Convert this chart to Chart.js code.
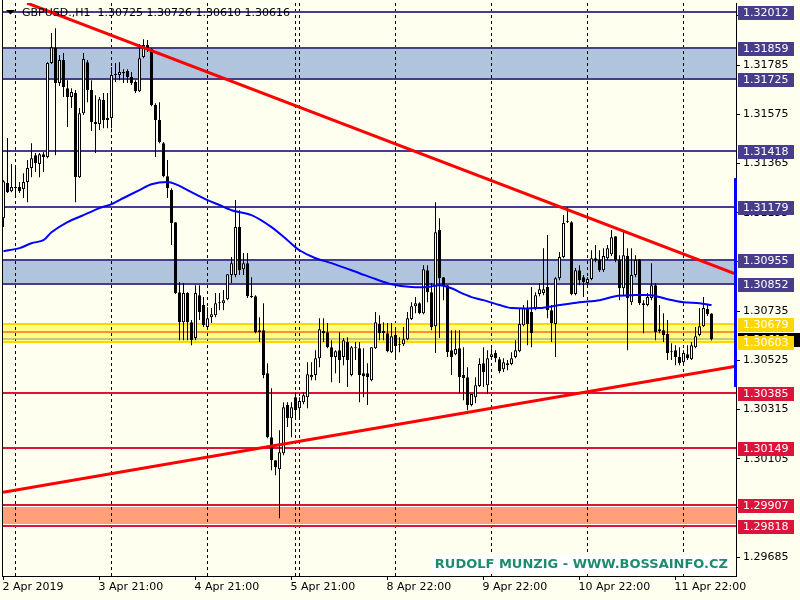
<!DOCTYPE html>
<html><head><meta charset="utf-8">
<script src="https://cdn.jsdelivr.net/npm/chart.js@4"></script>
<style>html,body{margin:0;padding:0;background:#FFFFF0}canvas{display:block}</style>
</head><body>
<canvas id="c" width="800" height="600"></canvas>
<script>
// ---------- DATA ----------
const symbolName = 'GBPUSD.';
const timeframe = 'H1';
const opens = [
1.31132,1.31282,1.31247,1.31265,1.31265,1.31256,1.31286,1.31346,1.31401,1.31363,
1.31405,1.31393,1.31794,1.31858,1.31709,1.31807,1.31687,1.31649,1.31666,1.31307,
1.31580,1.31798,1.31679,1.31542,1.31534,1.31636,1.31551,1.31559,1.31743,1.31743,
1.31756,1.31760,1.31734,1.31713,1.31674,1.31820,1.31871,1.31854,1.31615,1.31551,
1.31452,1.31311,1.31252,1.31115,1.30816,1.30688,1.30812,1.30688,1.30620,1.30803,
1.30761,1.30667,1.30709,1.30718,1.30769,1.30769,1.30786,1.30889,1.30889,1.31094,
1.30914,1.30940,1.30799,1.30799,1.30654,1.30654,1.30470,1.30197,1.30099,1.30060,
1.30129,1.30334,1.30278,1.30368,1.30321,1.30346,1.30368,1.30453,1.30462,1.30534,
1.30650,1.30645,1.30581,1.30539,1.30568,1.30539,1.30603,1.30462,1.30581,1.30577,
1.30470,1.30470,1.30440,1.30577,1.30680,1.30650,1.30641,1.30560,1.30633,1.30594,
1.30594,1.30615,1.30701,1.30756,1.30769,1.30726,1.30910,1.30816,1.30671,1.31081,
1.30880,1.30846,1.30568,1.30551,1.30577,1.30462,1.30453,1.30334,1.30368,1.30415,
1.30513,1.30419,1.30539,1.30556,1.30530,1.30487,1.30513,1.30509,1.30539,1.30564,
1.30675,1.30748,1.30731,1.30748,1.30808,1.30812,1.30838,1.30739,1.30680,1.30876,
1.30966,1.31115,1.31115,1.30808,1.30910,1.30880,1.30855,1.30872,1.30961,1.30953,
1.30910,1.30961,1.30978,1.31055,1.30953,1.30833,1.30970,1.30773,1.30889,1.30957,
1.30769,1.30761,1.30791,1.30846,1.30658,1.30654,1.30637,1.30564,1.30568,1.30539,
1.30517,1.30551,1.30530,1.30581,1.30633,1.30671,1.30744,1.30725];
const highs = [
1.31294,1.31474,1.31363,1.31346,1.31286,1.31324,1.31380,1.31452,1.31410,1.31410,
1.31414,1.31798,1.31922,1.31943,1.31828,1.31837,1.31721,1.31687,1.31679,1.31602,
1.31837,1.31807,1.31721,1.31657,1.31649,1.31666,1.31666,1.31777,1.31794,1.31798,
1.31768,1.31768,1.31756,1.31721,1.31875,1.31896,1.31892,1.31858,1.31623,1.31627,
1.31457,1.31380,1.31260,1.31115,1.30859,1.30855,1.30816,1.30697,1.30846,1.30846,
1.30795,1.30752,1.30748,1.30812,1.30812,1.30825,1.30893,1.30966,1.31209,1.31166,
1.30983,1.30983,1.30880,1.30803,1.30709,1.30769,1.30513,1.30406,1.30099,1.30227,
1.30346,1.30346,1.30346,1.30389,1.30368,1.30389,1.30517,1.30517,1.30568,1.30705,
1.30705,1.30684,1.30611,1.30568,1.30645,1.30620,1.30624,1.30586,1.30603,1.30603,
1.30577,1.30513,1.30581,1.30731,1.30718,1.30688,1.30684,1.30684,1.30654,1.30624,
1.30667,1.30731,1.30773,1.30795,1.30773,1.30931,1.30931,1.30855,1.31200,1.31132,
1.30880,1.30846,1.30654,1.30654,1.30654,1.30581,1.30496,1.30381,1.30453,1.30534,
1.30581,1.30568,1.30577,1.30568,1.30539,1.30534,1.30526,1.30560,1.30611,1.30748,
1.30761,1.30782,1.30838,1.30816,1.30855,1.31004,1.31060,1.30761,1.30880,1.30987,
1.31145,1.31179,1.31119,1.30919,1.30931,1.30889,1.30880,1.30995,1.31017,1.30995,
1.31004,1.31017,1.31081,1.31055,1.30974,1.31081,1.31004,1.31004,1.30974,1.30957,
1.30782,1.30812,1.30940,1.30855,1.30761,1.30726,1.30697,1.30598,1.30590,1.30581,
1.30568,1.30590,1.30603,1.30667,1.30748,1.30795,1.30761,1.30726];
const lows = [
1.31094,1.31239,1.31243,1.31230,1.31239,1.31218,1.31200,1.31307,1.31329,1.31307,
1.31329,1.31388,1.31790,1.31401,1.31696,1.31649,1.31521,1.31602,1.31200,1.31303,
1.31572,1.31627,1.31504,1.31410,1.31508,1.31516,1.31516,1.31516,1.31713,1.31721,
1.31709,1.31709,1.31700,1.31666,1.31670,1.31815,1.31841,1.31610,1.31393,1.31452,
1.31307,1.31218,1.31017,1.30808,1.30611,1.30611,1.30611,1.30590,1.30611,1.30697,
1.30667,1.30662,1.30684,1.30709,1.30739,1.30739,1.30782,1.30855,1.30880,1.30889,
1.30889,1.30791,1.30791,1.30641,1.30603,1.30449,1.30193,1.30056,1.30035,1.29851,
1.30120,1.30240,1.30197,1.30270,1.30282,1.30338,1.30321,1.30440,1.30440,1.30496,
1.30603,1.30577,1.30432,1.30470,1.30428,1.30504,1.30411,1.30457,1.30526,1.30346,
1.30368,1.30334,1.30436,1.30573,1.30611,1.30611,1.30560,1.30556,1.30526,1.30560,
1.30586,1.30611,1.30697,1.30726,1.30722,1.30722,1.30773,1.30654,1.30556,1.30620,
1.30782,1.30539,1.30462,1.30547,1.30385,1.30355,1.30312,1.30329,1.30342,1.30411,
1.30411,1.30381,1.30526,1.30517,1.30470,1.30475,1.30483,1.30504,1.30534,1.30560,
1.30671,1.30590,1.30581,1.30739,1.30799,1.30803,1.30705,1.30603,1.30539,1.30867,
1.30961,1.31111,1.30803,1.30803,1.30846,1.30795,1.30846,1.30867,1.30944,1.30902,
1.30902,1.30953,1.30970,1.30944,1.30782,1.30803,1.30568,1.30761,1.30880,1.30761,
1.30641,1.30756,1.30782,1.30611,1.30641,1.30603,1.30526,1.30526,1.30504,1.30504,
1.30513,1.30526,1.30526,1.30577,1.30628,1.30667,1.30714,1.30610];
const closes = [
1.31290,1.31243,1.31265,1.31260,1.31247,1.31286,1.31346,1.31388,1.31367,1.31405,
1.31393,1.31794,1.31862,1.31709,1.31807,1.31692,1.31649,1.31670,1.31307,1.31580,
1.31811,1.31679,1.31542,1.31534,1.31640,1.31551,1.31559,1.31743,1.31747,1.31756,
1.31751,1.31734,1.31709,1.31674,1.31815,1.31871,1.31858,1.31615,1.31551,1.31457,
1.31311,1.31260,1.31111,1.30812,1.30688,1.30812,1.30688,1.30611,1.30812,1.30731,
1.30675,1.30705,1.30722,1.30769,1.30773,1.30782,1.30893,1.30940,1.31094,1.30910,
1.30940,1.30799,1.30795,1.30645,1.30645,1.30462,1.30197,1.30099,1.30069,1.30133,
1.30325,1.30278,1.30325,1.30312,1.30351,1.30376,1.30466,1.30462,1.30534,1.30658,
1.30641,1.30581,1.30539,1.30564,1.30526,1.30611,1.30526,1.30581,1.30577,1.30462,
1.30457,1.30453,1.30581,1.30688,1.30641,1.30641,1.30564,1.30628,1.30586,1.30590,
1.30615,1.30705,1.30756,1.30769,1.30726,1.30914,1.30816,1.30667,1.31072,1.30876,
1.30846,1.30560,1.30539,1.30573,1.30453,1.30449,1.30334,1.30381,1.30419,1.30509,
1.30475,1.30534,1.30551,1.30534,1.30479,1.30517,1.30504,1.30534,1.30568,1.30680,
1.30748,1.30680,1.30641,1.30803,1.30829,1.30829,1.30739,1.30684,1.30876,1.30966,
1.31111,1.31119,1.30808,1.30910,1.30867,1.30859,1.30872,1.30961,1.30953,1.30910,
1.30970,1.31004,1.31051,1.30953,1.30833,1.30974,1.30791,1.30889,1.30953,1.30769,
1.30761,1.30795,1.30846,1.30645,1.30650,1.30633,1.30556,1.30560,1.30539,1.30513,
1.30556,1.30534,1.30590,1.30628,1.30671,1.30748,1.30722,1.30616];

// moving average read at sample bars
const maIndex = [0,4,7,10,12,16,20,24,27,30,34,37,41,43,46,51,54,57,62,67,71,74,78,82,89,93,97,102,106,109,112,114,117,120,124,127,134,139,144,149,153,157,162,166,170,174,177];
const maValues = [1.30991,1.31004,1.31025,1.31038,1.31072,1.31115,1.31145,1.31175,1.31192,1.31218,1.31252,1.31277,1.31286,1.31277,1.31252,1.31209,1.31188,1.31166,1.31145,1.31094,1.31038,1.30995,1.30961,1.30940,1.30897,1.30872,1.30850,1.30838,1.30838,1.30846,1.30833,1.30816,1.30795,1.30782,1.30761,1.30748,1.30748,1.30761,1.30773,1.30782,1.30799,1.30803,1.30803,1.30786,1.30773,1.30769,1.30761];

// trend lines [barIndex, price]
const trendDown = [[5.9, 1.32050], [183.1, 1.30893]];
const trendUp = [[-0.1, 1.29962], [183.1, 1.30500]];

// horizontal levels
const blueLevels = [1.32012, 1.31859, 1.31725, 1.31418, 1.31179, 1.30955, 1.30852];
const goldLevels = [1.30679, 1.30603];
const redLevels = [1.30385, 1.30149, 1.29907, 1.29818];
const blueZones = [[1.31859, 1.31725], [1.30955, 1.30852]];
const goldZones = [[1.30679, 1.30603]];
const salmonZones = [[1.29902, 1.29823]];
const bidPrice = 1.30616;
const askPrice = 1.30646;
const sideBar = [1.31303, 1.30411];

// axes
const priceTicks = [1.29685,1.29895,1.30105,1.30315,1.30525,1.30735,1.30945,1.31155,1.31365,1.31575,1.31785,1.31995];
const timeTickIndex = [0,24,48,72,96,120,144,168];
const timeLabels = ['2 Apr 2019','3 Apr 21:00','4 Apr 21:00','5 Apr 21:00','8 Apr 22:00','9 Apr 22:00','10 Apr 22:00','11 Apr 22:00'];
const daySeparators = [3,27,51,73,74,98,122,146,170];
const watermark = 'RUDOLF MUNZIG - WWW.BOSSAINFO.CZ';

// ---------- STYLE / DRAW ----------
const FONT = 'DejaVu Sans';
Chart.defaults.font.family = FONT;
Chart.defaults.font.size = 11;
Chart.defaults.color = '#000';

const mt4 = {
  id: 'mt4',
  beforeDraw(chart) {
    const ctx = chart.ctx;
    ctx.save();
    ctx.fillStyle = '#FFFFF0';
    ctx.fillRect(0, 0, chart.width, chart.height);
    ctx.restore();
  },
  beforeDatasetsDraw(chart) {
    const {ctx, chartArea: a, scales: {x, y}} = chart;
    const py = v => Math.round(y.getPixelForValue(v));
    ctx.save();
    ctx.beginPath(); ctx.rect(a.left, a.top, a.right - a.left, a.bottom - a.top); ctx.clip();
    const fillZones = (zones, col) => zones.forEach(z => {
      const t = py(Math.max(z[0], z[1])), b = py(Math.min(z[0], z[1]));
      ctx.fillStyle = col; ctx.fillRect(a.left, t + 1, a.right - a.left, b - t - 2);
    });
    fillZones(blueZones, '#B0C4DE');
    fillZones(goldZones, '#FFFF80');
    fillZones(salmonZones, '#FFA07A');
    // day separators
    ctx.strokeStyle = '#000'; ctx.lineWidth = 1; ctx.setLineDash([3, 3]);
    daySeparators.forEach(i => {
      const px = Math.floor(x.getPixelForValue(i)) + 0.5;
      ctx.beginPath(); ctx.moveTo(px, a.top); ctx.lineTo(px, a.bottom); ctx.stroke();
    });
    ctx.setLineDash([]);
    const hline = (v, col, w) => {
      const p = py(v);
      ctx.fillStyle = col; ctx.fillRect(a.left, p - w / 2, a.right - a.left, w);
    };
    hline(askPrice, '#FF2000', 1);
    hline(bidPrice, '#909090', 1);
    blueLevels.forEach(v => hline(v, '#483D8B', 2));
    goldLevels.forEach(v => hline(v, '#FFD700', 2));
    redLevels.forEach(v => hline(v, '#DC143C', 2));
    ctx.restore();
  },
  afterDraw(chart) {
    const {ctx, chartArea: a, scales: {y}} = chart;
    const py = v => Math.round(y.getPixelForValue(v));
    ctx.save();
    // left frame
    ctx.fillStyle = '#000'; ctx.fillRect(2, 0, 1, a.bottom + 1);
    // side bar
    const t = y.getPixelForValue(sideBar[0]), b = y.getPixelForValue(sideBar[1]);
    ctx.fillStyle = '#0000FF'; ctx.fillRect(a.right - 2, t, 3, b - t);
    // price labels
    ctx.font = '11px ' + FONT; ctx.textBaseline = 'middle'; ctx.textAlign = 'left';
    const box = (v, bg, w) => {
      const p = py(v);
      ctx.fillStyle = bg; ctx.fillRect(a.right + 2, p - 6, w, 14);
      ctx.fillStyle = '#FFFFFF'; ctx.fillText(v.toFixed(5), a.right + 7, p + 1);
    };
    box(bidPrice, '#000000', 64);
    blueLevels.forEach(v => box(v, '#483D8B', 56));
    goldLevels.forEach(v => box(v, '#FFD700', 56));
    redLevels.forEach(v => box(v, '#DC143C', 56));
    // title
    const n = closes.length - 1;
    ctx.fillStyle = '#000';
    ctx.beginPath(); ctx.moveTo(6, 10); ctx.lineTo(15, 10); ctx.lineTo(10.5, 14.5); ctx.closePath(); ctx.fill();
    ctx.fillText(symbolName + ',' + timeframe + '  ' + [opens[n], highs[n], lows[n], closes[n]].map(v => v.toFixed(5)).join(' '), 22, 13);
    // watermark
    ctx.fillStyle = '#FFFFFF'; ctx.fillRect(432, 555, 298, 19);
    ctx.font = 'bold 13px ' + FONT; ctx.fillStyle = '#1E8C6C'; ctx.textAlign = 'right';
    ctx.fillText(watermark, 728, 565);
    ctx.restore();
  }
};

const bodies = opens.map((o, i) => ({x: i, y: [o, closes[i]]}));
const wicks = lows.map((l, i) => ({x: i, y: [l, highs[i]]}));

new Chart(document.getElementById('c'), {
  type: 'bar',
  data: {
    datasets: [
      {type: 'line', data: trendDown.map(p => ({x: p[0], y: p[1]})), borderColor: '#FF0000', borderWidth: 3, pointRadius: 0, tension: 0, order: 0, clip: 0},
      {type: 'line', data: trendUp.map(p => ({x: p[0], y: p[1]})), borderColor: '#FF0000', borderWidth: 3, pointRadius: 0, tension: 0, order: 0, clip: 0},
      {type: 'line', data: maIndex.map((v, i) => ({x: v, y: maValues[i]})), borderColor: '#0000FF', borderWidth: 2, pointRadius: 0, tension: 0.3, order: 1, clip: 0},
      {type: 'bar', data: bodies, backgroundColor: opens.map((o, i) => closes[i] >= o ? '#FFFFFF' : '#000000'),
        borderColor: '#000000', borderWidth: 1, borderSkipped: false, barThickness: 3, grouped: false, minBarLength: 1, inflateAmount: 0, order: 2},
      {type: 'bar', data: wicks, backgroundColor: '#000000', borderWidth: 0, barThickness: 1, grouped: false, inflateAmount: 0, order: 3}
    ]
  },
  options: {
    responsive: false, animation: false, events: [], devicePixelRatio: 1,
    layout: {padding: {left: 3, top: 3, right: 0, bottom: 0}},
    plugins: {legend: {display: false}, tooltip: {enabled: false}},
    scales: {
      x: {
        type: 'linear', min: -0.125, max: 183.125, offset: false,
        afterBuildTicks(s) { s.ticks = timeTickIndex.map(v => ({value: v})); },
        afterFit(s) { s.height = 24; s.paddingLeft = 0; s.paddingRight = 0; },
        ticks: {autoSkip: false, maxRotation: 0, minRotation: 0, align: 'start', padding: 1, labelOffset: -1,
          color: '#000', font: {family: FONT, size: 11}, callback: (v, i) => timeLabels[i]},
        grid: {offset: false, drawOnChartArea: false, drawTicks: true, tickLength: 4, color: '#000'},
        border: {display: true, color: '#000', width: 1}
      },
      y: {
        type: 'linear', position: 'right', min: 1.296045, max: 1.320504, beginAtZero: false,
        afterBuildTicks(s) { s.ticks = priceTicks.map(v => ({value: v})); },
        afterFit(s) { s.width = 64; s.paddingTop = 0; s.paddingBottom = 0; },
        ticks: {padding: 3, color: '#000', font: {family: FONT, size: 11}, callback: v => v.toFixed(5)},
        grid: {drawOnChartArea: false, drawTicks: true, tickLength: 4, color: '#000'},
        border: {display: true, color: '#000', width: 1}
      }
    }
  },
  plugins: [mt4]
});
</script>
</body></html>
